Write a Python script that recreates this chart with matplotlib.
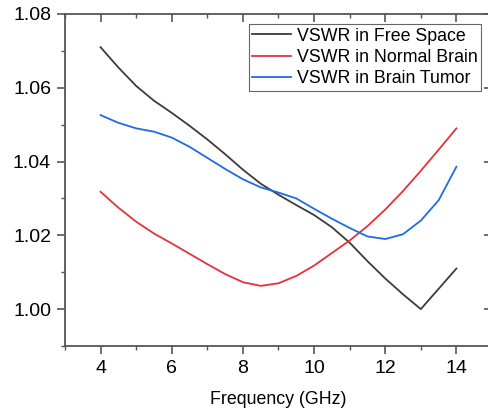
import matplotlib
matplotlib.use("Agg")
from matplotlib import pyplot as plt
from matplotlib.ticker import MultipleLocator

plt.rcParams['font.family'] = ['Liberation Sans', 'DejaVu Sans']

# frequency in GHz
freq = [4.0, 4.5, 5.0, 5.5, 6.0, 6.5, 7.0, 7.5, 8.0, 8.5, 9.0,
        9.5, 10.0, 10.5, 11.0, 11.5, 12.0, 12.5, 13.0, 13.5, 14.0]

vswr_free = [1.0710, 1.0655, 1.0605, 1.0565, 1.0532, 1.0497, 1.0460, 1.0420,
             1.0378, 1.0340, 1.0310, 1.0282, 1.0255, 1.0222, 1.0180, 1.0130,
             1.0083, 1.0040, 1.0000, 1.0055, 1.0110]
vswr_normal = [1.0318, 1.0275, 1.0237, 1.0205, 1.0178, 1.0150, 1.0122, 1.0095,
               1.0073, 1.0063, 1.0070, 1.0090, 1.0118, 1.0152, 1.0186, 1.0225,
               1.0270, 1.0320, 1.0375, 1.0432, 1.0490]
vswr_tumor = [1.0526, 1.0505, 1.0490, 1.0481, 1.0465, 1.0440, 1.0410, 1.0380,
              1.0352, 1.0330, 1.0316, 1.0300, 1.0272, 1.0245, 1.0220, 1.0197,
              1.0190, 1.0203, 1.0240, 1.0295, 1.0386]

labels = ['VSWR in Free Space', 'VSWR in Normal Brain', 'VSWR in Brain Tumor']
colors = ['#3c3c3c', '#e8303a', '#1f6be3']

fig = plt.figure(figsize=(4.88, 4.09), dpi=100)
ax = fig.add_axes([65 / 488, 63 / 409, 427 / 488, 332 / 409])

for ys, lab, col in zip([vswr_free, vswr_normal, vswr_tumor], labels, colors):
    ax.plot(freq, ys, color=col, lw=1.3, label=lab,
            solid_joinstyle='round')

ax.set_xlim(3, 15)
ax.set_ylim(0.99, 1.08)
ax.xaxis.set_minor_locator(MultipleLocator(1))
ax.yaxis.set_minor_locator(MultipleLocator(0.01))
ax.set_yticks([1.00, 1.02, 1.04, 1.06, 1.08])
ax.set_yticklabels(['1.00', '1.02', '1.04', '1.06', '1.08'])
ax.set_xticks([4, 6, 8, 10, 12, 14])

for s in ax.spines.values():
    s.set_color('#555555')
    s.set_linewidth(1.3)

ax.tick_params(which='major', direction='out', length=6, width=1.2, color='#555555',
               labelsize=14, pad=4)
ax.tick_params(which='minor', direction='out', length=3, width=1.0, color='#555555')
ax.tick_params(which='both', top=True, right=True)

# top and right ticks point inward
for t in ax.xaxis.get_major_ticks() + ax.xaxis.get_minor_ticks():
    t.tick2line.set_marker(3)
for t in ax.yaxis.get_major_ticks() + ax.yaxis.get_minor_ticks():
    t.tick2line.set_marker(0)

ax.set_xlabel('Frequency (GHz)', fontsize=12.8, labelpad=10)

leg = ax.legend(loc='upper right', bbox_to_anchor=(481 / 488, 385 / 409),
                bbox_transform=fig.transFigure, borderaxespad=0, fontsize=12.8,
                fancybox=False, edgecolor='#666666', framealpha=1,
                handlelength=2.2, handletextpad=0.3, labelspacing=0.25,
                borderpad=0.2)
leg.get_frame().set_linewidth(0.8)

fig.savefig('out.png', dpi=100)
